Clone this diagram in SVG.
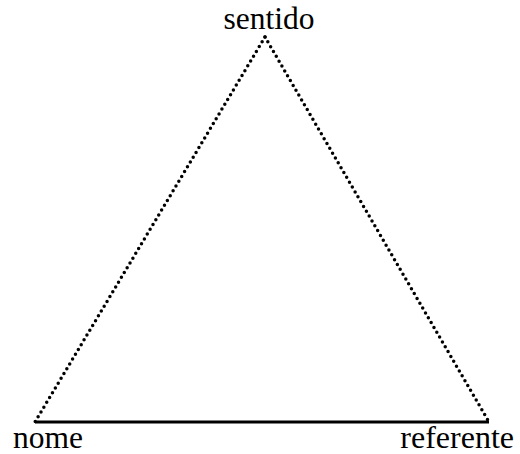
<svg xmlns="http://www.w3.org/2000/svg" width="520" height="454" viewBox="0 0 520 454">
  <style>
    .dotted { stroke: #000; stroke-width: 3.5; stroke-linecap: round; stroke-dasharray: 0 5.6; fill: none; }
    .solid { stroke: #000; stroke-width: 3; fill: none; }
  </style>
  <rect width="520" height="454" fill="#fff"/>
  <g id="connectors">
    <line class="dotted" x1="265" y1="37" x2="35" y2="422"/>
    <line class="dotted" x1="265" y1="37" x2="489" y2="422"/>
    <line class="solid" x1="35" y1="422" x2="489" y2="422"/>
  </g>
  <g id="sentido">
    <text x="269" y="29" font-family="Liberation Serif" font-size="31.5" text-anchor="middle" fill="#000">sentido</text>
  </g>
  <g id="nome">
    <text x="13" y="448" font-family="Liberation Serif" font-size="31.5" fill="#000">nome</text>
  </g>
  <g id="referente">
    <text x="514" y="448" font-family="Liberation Serif" font-size="32" text-anchor="end" fill="#000">referente</text>
  </g>
</svg>
